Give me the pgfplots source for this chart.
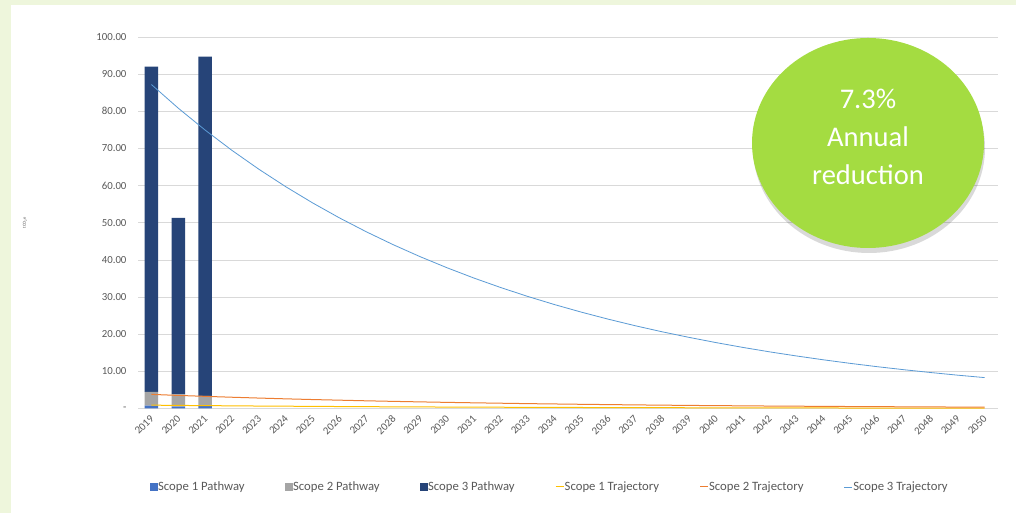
\documentclass[border=0pt]{standalone}
\usepackage{pgfplots}
\pgfplotsset{compat=1.18}
\usepackage{fontspec}
\setmainfont{Carlito}

\definecolor{sone}{HTML}{4472C4}
\definecolor{stwo}{HTML}{A5A5A5}
\definecolor{sthree}{HTML}{264478}
\definecolor{tone}{HTML}{FFC000}
\definecolor{ttwo}{HTML}{ED7D31}
\definecolor{tthree}{HTML}{5B9BD5}
\definecolor{txtgray}{HTML}{595959}
\definecolor{gridgray}{HTML}{D9D9D9}
\definecolor{framegreen}{HTML}{EEF6DC}
\definecolor{bubble}{HTML}{A4DC41}

\pgfplotsset{
  base/.style={
    scale only axis, width=860pt, height=371.5pt,
    at={(138pt,104.5pt)}, anchor=south west,
    xmin=-0.5, xmax=31.5, ymin=0, ymax=100,
    axis line style={draw=none},
    major tick length=0pt,
  },
}

\begin{document}
\begin{tikzpicture}
\useasboundingbox (0pt,0pt) rectangle (1016pt,513pt);
\fill[framegreen] (0pt,0pt) rectangle (1016pt,513pt);
\fill[white] (11pt,0pt) rectangle (1016pt,508pt);

% bars
\begin{axis}[base,
  ybar stacked, bar width=13.5pt,
  ytick={0,10,...,100},
  yticklabels={-,10.00,20.00,30.00,40.00,50.00,60.00,70.00,80.00,90.00,100.00},
  ymajorgrids, grid style={gridgray, line width=0.7pt},
  yticklabel style={font=\fontsize{10.8}{12}\selectfont, text=txtgray, anchor=east, xshift=-8pt},
  /pgf/number format/assume math mode=true,
  xtick={0,...,31},
  xticklabels={2019,2020,2021,2022,2023,2024,2025,2026,2027,2028,2029,2030,2031,2032,2033,2034,2035,2036,2037,2038,2039,2040,2041,2042,2043,2044,2045,2046,2047,2048,2049,2050},
  xticklabel style={font=\fontsize{10.8}{12}\selectfont, text=txtgray, xshift=3pt, yshift=-6pt, rotate=45, anchor=east},
  ylabel={tCO\textsubscript{2}e},
  ylabel style={font=\fontsize{4.5}{5}\selectfont, text=txtgray, at={(axis description cs:-0.1314,0.5)}, anchor=center},
]
\addplot[fill=sone, draw=none] coordinates {(0,0.8) (1,0.5) (2,0.7)};
\addplot[fill=stwo, draw=none] coordinates {(0,3.7) (1,3.3) (2,2.7)};
\addplot[fill=sthree, draw=none] coordinates {(0,87.5) (1,47.5) (2,91.3)};
\end{axis}

% trajectories and legend
\begin{axis}[base,
  xtick=\empty, ytick=\empty,
  legend columns=6,
  legend style={at={(0.0105,-0.2113)}, anchor=west, draw=none, fill=none,
    font=\fontsize{12.7}{14}\selectfont, text=txtgray,
    nodes={inner sep=0.5pt},
    /tikz/every even column/.append style={column sep=40pt}},
  legend image code/.code={\draw[#1] (0pt,0pt) -- (8pt,0pt);},
]
\addlegendimage{legend image code/.code={\fill[sone] (0pt,-3.5pt) rectangle (7pt,3.5pt);}}
\addlegendentry{Scope 1 Pathway}
\addlegendimage{legend image code/.code={\fill[stwo] (0pt,-3.5pt) rectangle (7pt,3.5pt);}}
\addlegendentry{Scope 2 Pathway}
\addlegendimage{legend image code/.code={\fill[sthree] (0pt,-3.5pt) rectangle (7pt,3.5pt);}}
\addlegendentry{Scope 3 Pathway}
\addplot[tone, line width=1pt] coordinates {
(0,0.90) (1,0.83) (2,0.77) (3,0.72) (4,0.66) (5,0.62) (6,0.57) (7,0.53)
(8,0.49) (9,0.45) (10,0.42) (11,0.39) (12,0.36) (13,0.34) (14,0.31) (15,0.29)
(16,0.27) (17,0.25) (18,0.23) (19,0.21) (20,0.20) (21,0.18) (22,0.17) (23,0.16)
(24,0.15) (25,0.14) (26,0.13) (27,0.12) (28,0.11) (29,0.10) (30,0.09) (31,0.09)};
\addlegendentry{Scope 1 Trajectory}
\addplot[ttwo, line width=1pt] coordinates {
(0,3.80) (1,3.52) (2,3.27) (3,3.03) (4,2.81) (5,2.60) (6,2.41) (7,2.24)
(8,2.07) (9,1.92) (10,1.78) (11,1.65) (12,1.53) (13,1.42) (14,1.31) (15,1.22)
(16,1.13) (17,1.05) (18,0.97) (19,0.90) (20,0.83) (21,0.77) (22,0.72) (23,0.66)
(24,0.62) (25,0.57) (26,0.53) (27,0.49) (28,0.46) (29,0.42) (30,0.39) (31,0.36)};
\addlegendentry{Scope 2 Trajectory}
\addplot[tthree, line width=0.8pt] coordinates {
(0,87.20) (1,80.83) (2,74.93) (3,69.46) (4,64.39) (5,59.69) (6,55.33) (7,51.29)
(8,47.55) (9,44.08) (10,40.86) (11,37.88) (12,35.11) (13,32.55) (14,30.17) (15,27.97)
(16,25.93) (17,24.04) (18,22.28) (19,20.65) (20,19.15) (21,17.75) (22,16.45) (23,15.25)
(24,14.14) (25,13.11) (26,12.15) (27,11.26) (28,10.44) (29,9.68) (30,8.97) (31,8.32)};
\addlegendentry{Scope 3 Trajectory}
\end{axis}

% annotation bubble
\fill[black, opacity=0.15] (869pt,365pt) ellipse [x radius=116pt, y radius=105pt];
\fill[bubble] (868pt,370pt) ellipse [x radius=116pt, y radius=105pt];
\node[text=white, align=center, font=\fontsize{28.5}{38}\selectfont] at (868pt,376pt)
  {7.3\%\\Annual\\reduction};
\end{tikzpicture}
\end{document}
